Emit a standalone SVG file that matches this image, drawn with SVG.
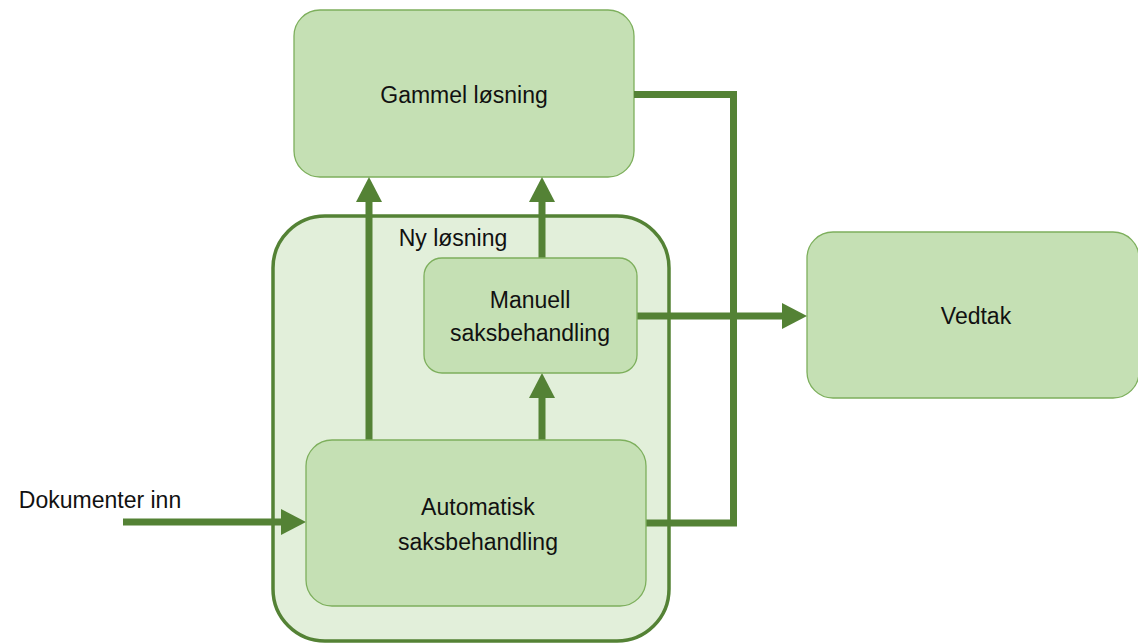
<svg xmlns="http://www.w3.org/2000/svg" width="1138" height="643" viewBox="0 0 1138 643">
<style>
.box{fill:#C5E0B4;stroke:#7DAF5C;stroke-width:1.3}
.outer{fill:#E2EFDA;stroke:#548235;stroke-width:3.5}
.lbl{font-family:"Liberation Sans",Arial,sans-serif;font-size:23px;fill:#111;text-anchor:middle}
.conn{fill:none;stroke:#548235;stroke-width:7}
.head{fill:#548235}
</style>
<rect width="1138" height="643" fill="#fff"/>
<g id="ny-losning">
<rect class="outer" x="273" y="216" width="396" height="425" rx="52"/>
<text class="lbl" x="453" y="246">Ny løsning</text>
</g>
<g id="gammel-losning">
<rect class="box" x="294" y="10" width="340" height="167" rx="26"/>
<text class="lbl" x="464" y="103">Gammel løsning</text>
</g>
<g id="vedtak">
<rect class="box" x="807" y="232" width="332" height="166" rx="26"/>
<text class="lbl" x="976" y="324">Vedtak</text>
</g>
<g id="connectors">
<polyline class="conn" points="634,94.5 733.5,94.5 733.5,523 646,523"/>
<line class="conn" x1="369" y1="440" x2="369" y2="199"/>
<polygon class="head" points="369,177 356,202 382,202"/>
<line class="conn" x1="542" y1="258" x2="542" y2="199"/>
<polygon class="head" points="542,177 529,202 555,202"/>
<line class="conn" x1="542" y1="440" x2="542" y2="395"/>
<polygon class="head" points="542,373 529,398 555,398"/>
<line class="conn" x1="637" y1="316" x2="785" y2="316"/>
<polygon class="head" points="807,316 782,303 782,329"/>
<line class="conn" x1="123" y1="522" x2="285" y2="522"/>
<polygon class="head" points="306,522 281,509 281,535"/>
</g>
<g id="manuell">
<rect class="box" x="424" y="258" width="213" height="115" rx="18"/>
<text class="lbl" x="530" y="308">Manuell</text>
<text class="lbl" x="530" y="341">saksbehandling</text>
</g>
<g id="automatisk">
<rect class="box" x="306" y="440" width="340" height="166" rx="26"/>
<text class="lbl" x="478" y="515">Automatisk</text>
<text class="lbl" x="478" y="550">saksbehandling</text>
</g>
<g id="dokumenter-inn">
<text class="lbl" x="100" y="508">Dokumenter inn</text>
</g>
</svg>
